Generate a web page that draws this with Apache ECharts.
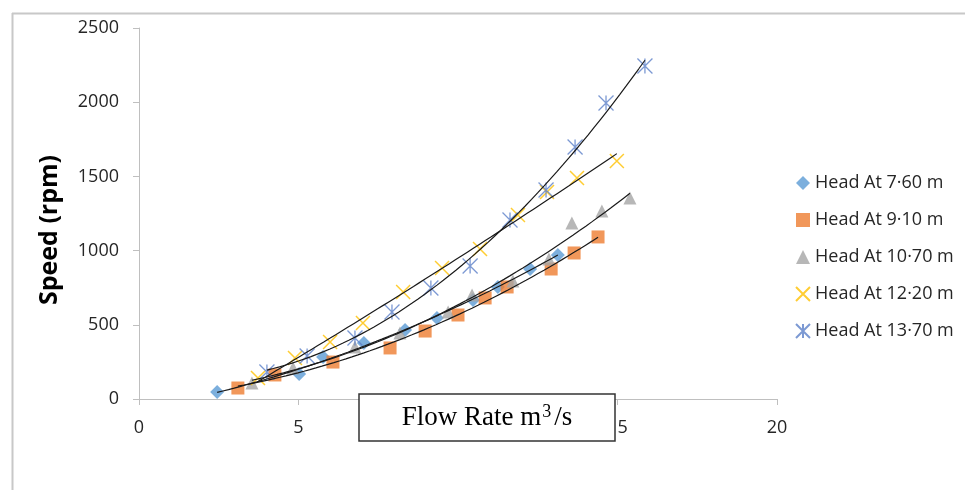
<!DOCTYPE html>
<html>
<head>
<meta charset="utf-8">
<script src="https://cdn.jsdelivr.net/npm/echarts@6/dist/echarts.min.js"></script>
<style>
html,body{margin:0;padding:0;background:#fff;}
#c{width:965px;height:490px;}
</style>
</head>
<body>
<div id="c"></div>
<script>
// ---- data (flow rate m^3/s, speed rpm) ----
const seriesNames = ['Head At 7·60 m','Head At 9·10 m','Head At 10·70 m','Head At 12·20 m','Head At 13·70 m'];
const head760 = [[2.45,47],[5.02,168],[5.77,283],[7.05,377],[8.34,465],[9.34,546],[10.47,667],[11.25,755],[12.26,876],[13.13,970]];
const head910 = [[3.10,74],[4.26,162],[6.08,249],[7.87,344],[8.97,458],[10.0,566],[10.85,681],[11.54,755],[12.92,876],[13.64,984],[14.39,1092]];
const head1070 = [[3.54,108],[4.83,209],[6.77,350],[8.18,445],[9.69,586],[10.44,701],[11.72,795],[12.85,943],[13.57,1186],[14.51,1267],[15.39,1354]];
const head1220 = [[3.73,142],[4.89,276],[5.99,384],[7.02,512],[8.28,721],[9.50,883],[10.69,1011],[11.88,1240],[12.79,1395],[13.73,1489],[14.98,1604]];
const head1370 = [[4.01,182],[5.27,290],[6.77,411],[7.93,586],[9.15,748],[10.38,896],[11.63,1206],[12.76,1408],[13.67,1698],[14.64,1995],[15.86,2244]];
const xTicks = {min:0, max:20, interval:5};
const yTicks = {min:0, max:2500, interval:500};
const yTitle = 'Speed (rpm)';

// polynomial (order 2) trendline, least squares, as in the spreadsheet
function quadFit(pts){
  let n=pts.length,s1=0,s2=0,s3=0,s4=0,t0=0,t1=0,t2=0;
  pts.forEach(([x,y])=>{s1+=x;s2+=x*x;s3+=x*x*x;s4+=x*x*x*x;t0+=y;t1+=x*y;t2+=x*x*y;});
  const M=[[n,s1,s2],[s1,s2,s3],[s2,s3,s4]],V=[t0,t1,t2];
  const det=m=>m[0][0]*(m[1][1]*m[2][2]-m[1][2]*m[2][1])-m[0][1]*(m[1][0]*m[2][2]-m[1][2]*m[2][0])+m[0][2]*(m[1][0]*m[2][1]-m[1][1]*m[2][0]);
  const D=det(M);
  const c=[0,1,2].map(k=>det(M.map((r,i)=>r.map((v,j)=>j===k?V[i]:v)))/D);
  const xs=pts.map(p=>p[0]);const lo=Math.min(...xs),hi=Math.max(...xs);
  const out=[];
  for(let i=0;i<=60;i++){const x=lo+(hi-lo)*i/60;out.push([x,c[0]+c[1]*x+c[2]*x*x]);}
  return out;
}

const allData=[head760,head910,head1070,head1220,head1370];
const symbols=['diamond','rect','triangle','path://M0,0L10,10M10,0L0,10','path://M5,0L5,10M0,0L10,10M10,0L0,10'];
const sizes=[14,13,13,14,15];
const styles=[
  {color:'#5B9BD5'},
  {color:'#ED7D31'},
  {color:'#A5A5A5'},
  {color:'transparent',borderColor:'#FFC000',borderWidth:1.5},
  {color:'transparent',borderColor:'#5b7fc8',borderWidth:1.3}
];

const series=[];
allData.forEach((d,i)=>{
  series.push({name:seriesNames[i],type:'scatter',data:d,symbol:symbols[i],symbolSize:sizes[i],itemStyle:styles[i],z:2});
});
allData.forEach((d,i)=>{
  series.push({name:'trend'+i,type:'line',data:quadFit(d),showSymbol:false,smooth:false,
    lineStyle:{color:'#1a1a1a',width:1.2},z:5,silent:true});
});

const chart=echarts.init(document.getElementById('c'));
chart.setOption({
  animation:false,
  backgroundColor:'#fff',
  grid:{left:139,top:28,width:638,height:371},
  xAxis:{type:'value',min:xTicks.min,max:xTicks.max,interval:xTicks.interval,
    splitLine:{show:false},
    axisLine:{lineStyle:{color:'#bfbfbf',width:1}},
    axisTick:{show:true,length:6,lineStyle:{color:'#bfbfbf'}},
    axisLabel:{margin:20,fontFamily:'Open Sans',fontSize:18,color:'#262626',formatter:v=>String(v)}},
  yAxis:{type:'value',min:yTicks.min,max:yTicks.max,interval:yTicks.interval,
    splitLine:{show:false},
    axisLine:{show:true,lineStyle:{color:'#bfbfbf',width:1}},
    axisTick:{show:true,length:6,lineStyle:{color:'#bfbfbf'}},
    axisLabel:{margin:20,fontFamily:'Open Sans',fontSize:18,color:'#262626',formatter:v=>String(v)}},
  legend:{orient:'vertical',left:790,top:169,itemWidth:14,itemHeight:14,itemGap:19,
    data:seriesNames,
    textStyle:{fontFamily:'Open Sans',fontSize:18,color:'#262626',lineHeight:18}},
  graphic:[
    {type:'rect',shape:{x:12,y:12.5,width:953,height:2},silent:true,z:50,zlevel:1,
      style:{fill:'#c8c8c8'}},
    {type:'rect',shape:{x:11.5,y:13,width:2,height:477},silent:true,z:50,zlevel:1,
      style:{fill:'#c8c8c8'}},
    {type:'text',x:50,y:230,rotation:Math.PI/2,silent:true,z:10,style:{
        text:yTitle,align:'center',verticalAlign:'middle',
        fontFamily:'Open Sans',fontWeight:'bold',fontSize:25,fill:'#000'}},
    {type:'rect',shape:{x:359,y:394,width:256,height:47},z:100,zlevel:1,
      style:{fill:'#fff',stroke:'#333',lineWidth:1.5}},
    {type:'text',x:487,y:418,z:101,zlevel:1,style:{
        text:'{a|Flow Rate m}{s|3}{a|/s}',
        align:'center',verticalAlign:'middle',
        rich:{
          a:{fontFamily:'Liberation Serif',fontSize:27,lineHeight:30,fill:'#000'},
          s:{fontFamily:'Liberation Serif',fontSize:18,lineHeight:30,verticalAlign:'top',padding:[0,3,0,1],fill:'#000'}
        }}}
  ],
  series:series
});
</script>
</body>
</html>
